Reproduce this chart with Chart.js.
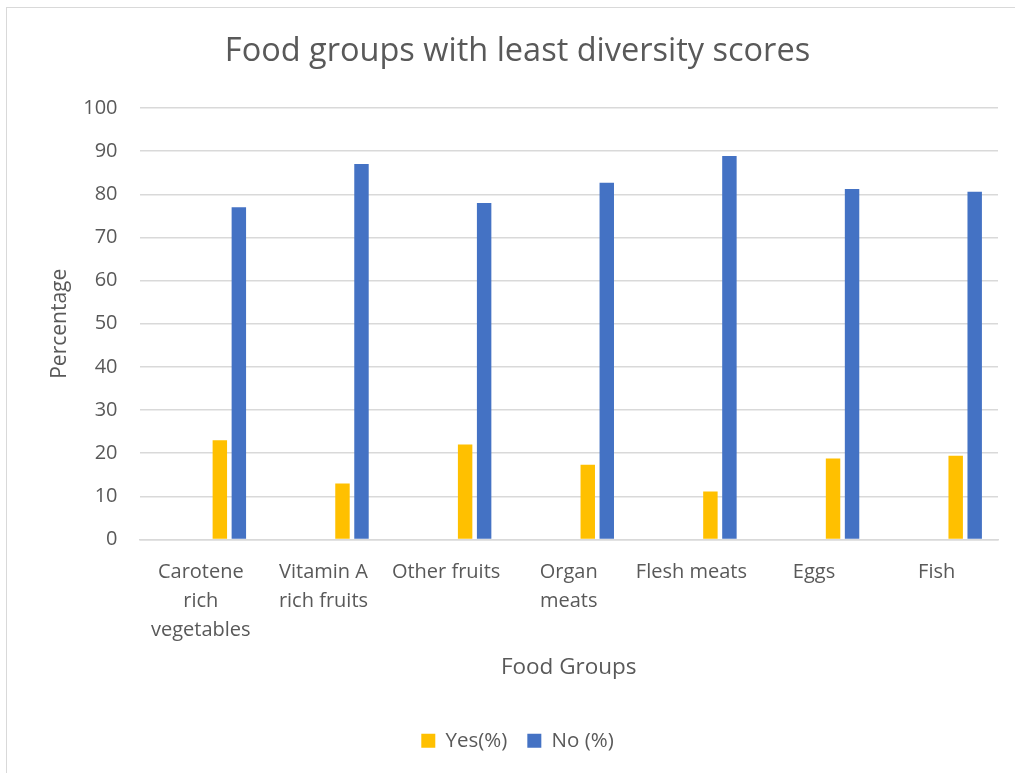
<!DOCTYPE html>
<html>
<head>
<meta charset="utf-8">
<title>Food groups with least diversity scores</title>
<script src="https://cdn.jsdelivr.net/npm/chart.js@4.4.1/dist/chart.umd.min.js"></script>
<style>
  html, body { margin: 0; padding: 0; background: #fff; overflow: hidden; }
  #wrap { position: relative; width: 1015px; height: 773px; }
  #frame {
    position: absolute; left: 6px; top: 7px; width: 1020px; height: 800px;
    border: 1.5px solid #d9d9d9; box-sizing: border-box;
  }
  canvas { position: absolute; left: 0; top: 0; }
</style>
</head>
<body>
<div id="wrap">
  <div id="frame"></div>
  <canvas id="chart" width="1015" height="773"></canvas>
</div>
<script>
const foodGroups = [
  ['Carotene', 'rich', 'vegetables'],
  ['Vitamin A', 'rich fruits'],
  'Other fruits',
  ['Organ', 'meats'],
  'Flesh meats',
  'Eggs',
  'Fish'
];
const yesPct = [23, 13, 22, 17.3, 11.1, 18.8, 19.4];
const noPct = [77, 87, 78, 82.7, 88.9, 81.2, 80.6];
// the sheet had three more (empty) series before Yes/No, they still take a slot
const emptySeries = [null, null, null, null, null, null, null];

const axisGrey = '#595959';
const font = 'Open Sans';

new Chart(document.getElementById('chart'), {
  type: 'bar',
  data: {
    labels: foodGroups,
    datasets: [
      { label: '', data: emptySeries },
      { label: '', data: emptySeries },
      { label: '', data: emptySeries },
      { label: 'Yes(%)', data: yesPct, backgroundColor: '#FFC000' },
      { label: 'No (%)', data: noPct, backgroundColor: '#4472C4' }
    ]
  },
  options: {
    responsive: false,
    animation: false,
    datasets: {
      bar: { categoryPercentage: 0.775, barPercentage: 0.76 }
    },
    layout: { padding: { left: 37, right: 17, top: 10, bottom: 12 } },
    plugins: {
      title: {
        display: true,
        text: 'Food groups with least diversity scores',
        color: axisGrey,
        font: { family: font, size: 32.5, weight: 'normal' },
        padding: { top: 22, bottom: 37 }
      },
      legend: {
        position: 'bottom',
        labels: {
          filter: item => item.text !== '',
          color: axisGrey,
          font: { family: font, size: 20.5 },
          boxWidth: 14,
          boxHeight: 14,
          padding: 20
        }
      },
      tooltip: { enabled: false }
    },
    scales: {
      x: {
        grid: { display: false },
        border: { color: '#d9d9d9', width: 1.5 },
        ticks: {
          color: axisGrey,
          font: { family: font, size: 20, lineHeight: 1.45 },
          maxRotation: 0,
          autoSkip: false,
          padding: 10
        },
        title: {
          display: true,
          text: 'Food Groups',
          color: axisGrey,
          font: { family: font, size: 22.5 },
          padding: { top: 0, bottom: 29 }
        }
      },
      y: {
        min: 0,
        max: 100,
        ticks: {
          stepSize: 10,
          color: axisGrey,
          font: { family: font, size: 20 },
          padding: 22
        },
        grid: { color: '#d9d9d9', lineWidth: 1.5, drawTicks: false },
        border: { display: false },
        title: {
          display: true,
          text: 'Percentage',
          color: axisGrey,
          font: { family: font, size: 21 },
          padding: { top: 10, bottom: -11 }
        }
      }
    }
  }
});
</script>
</body>
</html>
